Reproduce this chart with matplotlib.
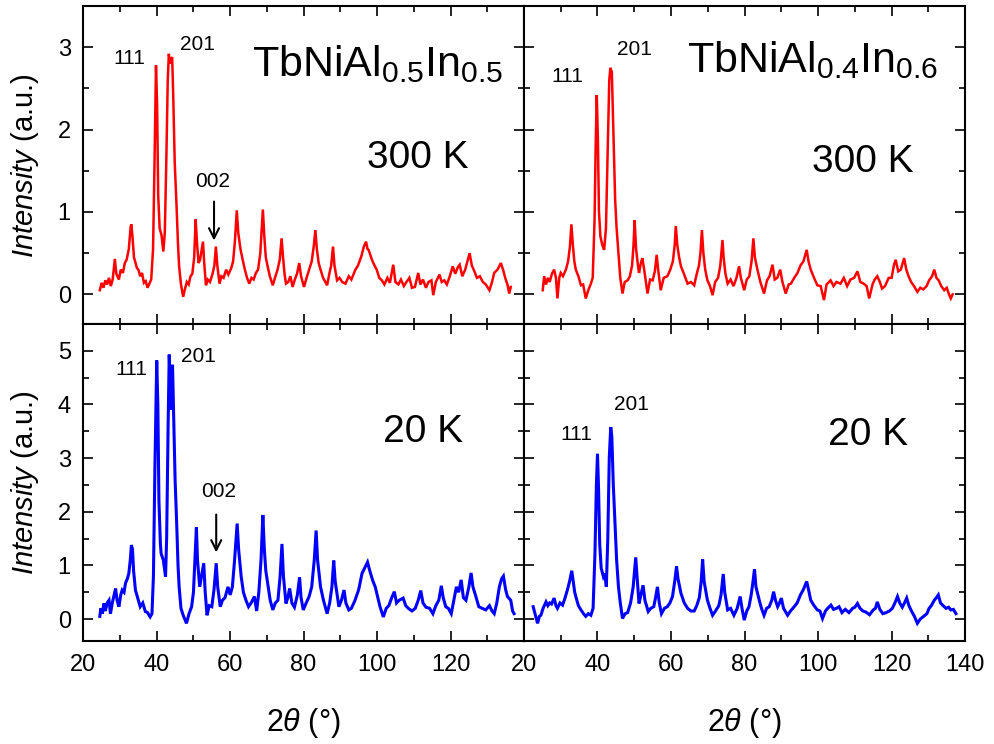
import numpy as np
import matplotlib
matplotlib.use("Agg")
import matplotlib.pyplot as plt
from matplotlib.ticker import MultipleLocator, FixedLocator

plt.rcParams['font.family'] = ['Liberation Sans', 'DejaVu Sans']
plt.rcParams['mathtext.fontset'] = 'custom'
plt.rcParams['mathtext.rm'] = 'Liberation Sans'
plt.rcParams['mathtext.it'] = 'Liberation Sans:italic'

# TbNiAl0.5In0.5, 300 K  (2theta, intensity)
pts_a_300 = [(24.5,0.05),(25.0,0.14),(25.5,0.08),(26.0,0.17),(26.5,0.12),(27.0,0.2),(27.5,0.1),(28.0,0.18),(28.6,0.43),(29.0,0.25),
    (29.7,0.18),(30.2,0.3),(30.8,0.26),(31.3,0.38),(31.8,0.42),(32.4,0.55),(32.9,0.82),(33.1,0.85),(33.4,0.7),(33.8,0.45),
    (34.6,0.32),(35.0,0.3),(35.5,0.22),(36.0,0.26),(36.5,0.14),(37.0,0.16),(37.5,0.08),(38.0,0.13),(38.5,0.18),(39.0,0.55),
    (39.4,1.6),(39.8,2.78),(40.1,2.3),(40.4,1.2),(40.8,0.8),(41.3,0.72),(41.8,0.52),(42.2,0.75),(42.6,1.6),(43.0,2.6),
    (43.3,2.92),(43.6,2.8),(43.8,2.85),(44.2,2.88),(44.5,2.4),(44.9,1.6),(45.4,1.07),(45.8,0.6),(46.1,0.34),(46.6,0.12),
    (47.2,-0.03),(47.6,0.05),(48.2,0.15),(48.7,0.12),(49.2,0.22),(49.7,0.25),(50.2,0.45),(50.6,0.91),(51.0,0.6),(51.4,0.38),
    (51.8,0.42),(52.6,0.64),(52.9,0.4),(53.4,0.11),(53.9,0.18),(54.5,0.15),(55.2,0.25),(55.7,0.35),(56.1,0.58),(56.5,0.35),
    (57.1,0.13),(57.6,0.22),(58.2,0.2),(58.9,0.3),(59.5,0.24),(60.3,0.32),(60.8,0.4),(61.3,0.65),(61.8,1.02),(62.2,0.75),
    (62.8,0.55),(63.4,0.42),(64.0,0.3),(64.6,0.2),(65.2,0.13),(65.8,0.2),(66.4,0.18),(67.0,0.26),(67.6,0.3),(68.2,0.5),
    (68.9,1.03),(69.3,0.7),(69.7,0.45),(70.2,0.34),(70.8,0.22),(71.6,0.11),(72.2,0.2),(72.9,0.3),(73.5,0.42),(74.0,0.68),
    (74.4,0.45),(74.8,0.25),(75.2,0.13),(75.8,0.15),(76.4,0.22),(77.0,0.09),(77.6,0.18),(78.2,0.25),(78.8,0.38),(79.3,0.22),
    (80.1,0.09),(80.8,0.2),(81.5,0.3),(82.2,0.4),(82.8,0.6),(83.2,0.78),(83.6,0.55),(84.1,0.38),(84.6,0.3),(85.3,0.2),
    (86.4,0.11),(87.0,0.25),(87.5,0.35),(88.0,0.58),(88.4,0.35),(89.1,0.17),(89.8,0.2),(90.5,0.15),(91.4,0.13),(92.3,0.22),
    (93.0,0.18),(94.1,0.3),(94.8,0.35),(95.7,0.46),(96.4,0.58),(97.0,0.64),(97.4,0.55),(97.7,0.54),(98.6,0.42),(99.3,0.35),
    (99.9,0.3),(100.6,0.2),(101.3,0.17),(102.0,0.12),(102.8,0.2),(103.5,0.14),(104.4,0.36),(105.0,0.15),(105.8,0.12),(106.5,0.18),
    (107.3,0.1),(108.0,0.15),(108.8,0.2),(109.5,0.08),(110.3,0.09),(111.2,0.26),(111.8,0.12),(112.5,0.18),(113.3,0.08),(114.0,0.15),
    (114.8,0.17),(115.3,-0.01),(116.0,0.15),(117.0,0.24),(117.6,0.15),(118.3,0.17),(119.0,0.12),(119.8,0.22),(120.6,0.34),(121.3,0.25),
    (122.0,0.33),(122.5,0.36),(123.2,0.22),(124.0,0.3),(124.6,0.4),(125.2,0.5),(125.8,0.35),(126.5,0.28),(127.2,0.2),(128.0,0.22),
    (128.8,0.15),(129.6,0.12),(130.6,0.05),(131.3,0.15),(131.9,0.26),(132.8,0.3),(133.7,0.38),(134.3,0.3),(134.9,0.2),(135.5,0.12),
    (136.0,0.01),(136.4,0.09)]

# TbNiAl0.4In0.6, 300 K
pts_b_300 = [(25.1,0.05),(25.5,0.22),(26.0,0.12),(26.5,0.2),(27.0,0.15),(27.6,0.25),(28.2,0.3),(28.7,0.2),(29.1,-0.05),(29.6,0.2),
    (30.0,0.26),(30.6,0.22),(31.4,0.3),(32.0,0.4),(32.5,0.58),(32.9,0.85),(33.3,0.6),(33.7,0.4),(34.1,0.3),(34.8,0.22),
    (35.5,0.11),(36.1,0.12),(36.8,-0.05),(37.5,0.05),(38.2,0.13),(38.7,0.2),(39.2,0.9),(39.5,1.8),(39.8,2.42),(40.1,1.9),
    (40.4,1.0),(40.8,0.7),(41.3,0.6),(41.8,0.54),(42.3,0.8),(42.8,1.8),(43.2,2.6),(43.5,2.75),(43.9,2.7),(44.3,2.0),
    (44.8,1.15),(45.2,0.8),(45.7,0.5),(46.2,0.2),(46.8,0.01),(47.4,0.15),(48.2,0.17),(48.8,0.22),(49.4,0.35),(49.8,0.6),
    (50.1,0.9),(50.5,0.55),(51.0,0.35),(51.3,0.26),(51.8,0.38),(52.2,0.44),(52.7,0.3),(53.6,0.01),(54.3,0.18),(55.0,0.17),
    (55.6,0.28),(56.1,0.48),(56.5,0.3),(57.2,0.05),(58.0,0.2),(59.0,0.22),(59.8,0.3),(60.5,0.4),(61.0,0.6),(61.3,0.83),
    (61.7,0.6),(62.2,0.45),(62.7,0.34),(63.5,0.25),(64.5,0.13),(65.4,0.15),(66.3,0.11),(67.0,0.25),(67.6,0.35),(68.0,0.5),
    (68.4,0.78),(68.8,0.5),(69.3,0.3),(69.9,0.17),(70.6,0.1),(71.3,-0.01),(72.0,0.15),(72.8,0.2),(73.4,0.35),(74.0,0.66),
    (74.3,0.45),(74.8,0.25),(75.4,0.13),(76.2,0.18),(77.0,0.1),(77.8,0.2),(78.5,0.34),(79.0,0.2),(79.9,0.05),(80.6,0.18),
    (81.3,0.22),(81.9,0.4),(82.4,0.68),(82.8,0.45),(83.5,0.3),(84.3,0.15),(85.3,0.01),(86.1,0.17),(86.8,0.22),(87.6,0.36),
    (88.2,0.18),(88.9,0.2),(89.7,0.3),(90.3,0.15),(91.2,0.01),(92.0,0.12),(92.6,0.13),(93.5,0.2),(94.4,0.26),(95.2,0.35),
    (96.0,0.4),(96.9,0.54),(97.4,0.4),(98.0,0.3),(98.9,0.2),(99.8,0.11),(100.7,0.1),(101.6,-0.07),(102.3,0.12),(103.4,0.17),
    (104.2,0.1),(105.0,0.15),(106.1,0.13),(107.0,0.2),(107.9,0.1),(108.8,0.18),(109.8,0.2),(110.7,0.28),(111.5,0.15),(112.4,0.13),
    (113.2,0.1),(113.9,-0.05),(114.8,0.12),(115.4,0.18),(116.1,0.22),(116.8,0.15),(117.4,0.07),(118.2,0.1),(119.2,0.2),(120.0,0.2),
    (120.6,0.35),(121.1,0.42),(121.8,0.28),(122.5,0.3),(123.4,0.44),(124.0,0.3),(124.6,0.22),(125.3,0.15),(126.1,0.1),(127.0,0.03),
    (127.8,0.08),(128.6,0.06),(129.5,0.1),(130.2,0.17),(131.0,0.22),(131.6,0.3),(132.2,0.2),(132.8,0.17),(133.5,0.1),(134.3,0.05),
    (135.0,0.08),(135.6,0.0),(136.1,-0.05),(136.6,0.0)]

# TbNiAl0.5In0.5, 20 K
pts_a_20 = [(24.5,0.05),(24.8,0.2),(25.2,0.1),(25.6,0.29),(26.0,0.15),(26.5,0.3),(27.0,0.35),(27.4,0.1),(27.9,0.3),(28.4,0.45),
    (28.8,0.57),(29.2,0.35),(29.7,0.23),(30.2,0.45),(30.6,0.54),(31.1,0.5),(31.5,0.67),(32.0,0.75),(32.4,0.85),(32.8,1.1),
    (33.1,1.38),(33.4,1.3),(33.7,0.9),(34.2,0.54),(34.8,0.4),(35.5,0.23),(36.2,0.3),(36.9,0.14),(37.5,0.12),(38.2,0.04),
    (38.7,0.1),(39.1,0.8),(39.5,2.8),(40.0,4.82),(40.3,4.0),(40.6,2.2),(41.0,1.4),(41.2,1.22),(41.8,1.1),(42.4,0.79),
    (42.7,1.5),(43.1,3.6),(43.4,4.93),(43.7,4.3),(43.9,3.9),(44.3,4.74),(44.6,3.8),(45.0,2.6),(45.4,1.85),(45.8,1.0),
    (46.1,0.6),(46.6,0.2),(47.2,0.07),(48.1,-0.08),(48.8,0.1),(49.5,0.23),(50.0,0.5),(50.4,1.1),(50.8,1.71),(51.1,1.1),
    (51.7,0.6),(52.2,0.8),(52.8,1.04),(53.2,0.5),(53.7,0.07),(54.3,0.25),(55.0,0.23),(55.6,0.55),(56.2,1.04),(56.6,0.6),
    (57.3,0.23),(57.9,0.35),(58.6,0.4),(59.4,0.6),(60.0,0.45),(60.6,0.6),(61.2,1.1),(61.9,1.78),(62.3,1.3),(63.0,0.79),
    (63.6,0.5),(64.3,0.35),(65.0,0.23),(65.7,0.3),(66.6,0.42),(67.2,0.15),(67.8,0.5),(68.4,1.1),(68.9,1.94),(69.3,1.3),
    (69.7,0.9),(70.2,0.67),(70.9,0.35),(71.6,0.17),(72.3,0.3),(73.0,0.35),(73.6,0.8),(74.1,1.4),(74.5,0.8),(75.2,0.29),
    (75.7,0.4),(76.2,0.57),(76.8,0.3),(77.5,0.22),(78.3,0.45),(78.9,0.78),(79.3,0.4),(79.9,0.17),(80.7,0.3),(81.5,0.42),
    (82.2,0.6),(82.9,1.1),(83.4,1.65),(83.8,1.1),(84.6,0.6),(85.4,0.35),(86.4,0.1),(87.1,0.3),(87.7,0.6),(88.2,1.09),
    (88.6,0.7),(89.6,0.23),(90.3,0.35),(91.0,0.54),(91.5,0.3),(92.3,0.17),(93.0,0.2),(94.0,0.35),(95.0,0.55),(95.9,0.85),
    (96.6,0.95),(97.4,1.06),(98.1,0.88),(98.8,0.72),(99.5,0.6),(100.2,0.4),(100.8,0.23),(101.7,0.04),(102.5,0.2),(103.2,0.25),
    (104.0,0.4),(104.7,0.51),(105.3,0.3),(106.0,0.35),(107.1,0.39),(107.8,0.25),(108.5,0.2),(109.5,0.15),(110.4,0.2),(111.2,0.35),
    (111.9,0.53),(112.5,0.3),(113.3,0.22),(114.3,0.2),(115.2,0.1),(116.0,0.25),(116.8,0.35),(117.5,0.62),(118.0,0.4),(118.7,0.23),
    (119.4,0.2),(120.2,0.1),(120.9,0.35),(121.6,0.6),(122.2,0.5),(122.9,0.73),(123.5,0.4),(124.2,0.35),(125.0,0.6),(125.6,0.86),
    (126.1,0.6),(126.9,0.42),(127.7,0.23),(128.6,0.2),(129.6,0.17),(130.6,0.25),(131.3,0.15),(131.9,0.1),(132.6,0.3),(133.3,0.6),
    (133.9,0.75),(134.4,0.8),(135.0,0.55),(135.5,0.42),(136.4,0.35),(136.9,0.15),(137.3,0.1)]

# TbNiAl0.4In0.6, 20 K
pts_b_20 = [(22.5,0.23),(23.0,0.1),(23.7,-0.08),(24.2,0.05),(24.6,0.07),(25.2,0.2),(26.0,0.32),(26.5,0.25),(27.0,0.3),(27.5,0.28),
    (28.2,0.39),(28.7,0.25),(29.1,0.2),(29.8,0.3),(30.5,0.26),(31.2,0.4),(31.8,0.54),(32.4,0.7),(33.0,0.9),(33.4,0.7),
    (33.8,0.5),(34.1,0.42),(34.8,0.25),(35.5,0.17),(36.2,0.1),(36.8,0.05),(37.5,0.1),(38.2,0.07),(38.8,0.2),(39.3,1.2),
    (39.7,2.5),(40.0,3.08),(40.3,2.4),(40.6,1.4),(41.0,0.95),(41.6,0.79),(42.0,0.85),(42.4,0.6),(42.8,1.5),(43.2,3.0),
    (43.6,3.58),(43.9,3.4),(44.3,2.5),(44.8,1.72),(45.2,1.1),(45.7,0.6),(46.2,0.3),(46.6,0.11),(46.8,0.01),(47.5,0.1),
    (48.2,0.12),(49.0,0.3),(49.7,0.6),(50.4,1.15),(50.8,0.75),(51.3,0.29),(51.8,0.45),(52.4,0.63),(52.9,0.35),(53.8,0.14),
    (54.5,0.2),(55.3,0.23),(55.8,0.4),(56.3,0.6),(56.8,0.3),(57.4,0.1),(58.2,0.2),(59.0,0.23),(59.7,0.3),(60.4,0.42),
    (61.0,0.7),(61.5,0.98),(61.9,0.75),(62.7,0.48),(63.6,0.3),(64.5,0.2),(65.4,0.15),(66.3,0.15),(67.0,0.25),(67.7,0.4),
    (68.2,0.7),(68.6,1.11),(69.0,0.7),(69.9,0.35),(70.6,0.2),(71.3,0.07),(72.1,0.15),(73.0,0.25),(73.6,0.45),(74.2,0.84),
    (74.6,0.5),(75.4,0.17),(76.2,0.2),(77.1,0.07),(78.0,0.2),(78.8,0.42),(79.3,0.2),(79.9,-0.02),(80.6,0.15),(81.2,0.23),
    (81.8,0.45),(82.3,0.7),(82.7,0.93),(83.1,0.6),(84.0,0.35),(84.6,0.2),(85.3,0.07),(86.0,0.2),(86.7,0.23),(87.4,0.35),
    (87.9,0.51),(88.4,0.35),(89.0,0.23),(89.5,0.3),(90.0,0.39),(90.6,0.2),(91.7,0.07),(92.5,0.15),(93.5,0.23),(94.3,0.3),
    (95.2,0.45),(96.0,0.55),(96.9,0.7),(97.4,0.55),(98.0,0.35),(98.9,0.25),(99.8,0.17),(100.5,0.15),(101.2,0.01),(102.0,0.15),
    (102.6,0.2),(103.5,0.26),(104.2,0.18),(105.0,0.2),(105.7,0.23),(106.5,0.12),(107.4,0.18),(108.4,0.12),(109.4,0.2),(110.0,0.22),
    (110.7,0.29),(111.4,0.2),(112.2,0.15),(113.0,0.13),(114.0,0.08),(115.0,0.17),(115.6,0.2),(116.1,0.32),(116.8,0.18),(117.6,0.1),
    (118.5,0.12),(119.4,0.15),(120.2,0.2),(120.9,0.3),(121.6,0.42),(122.2,0.3),(122.9,0.22),(123.5,0.3),(124.1,0.39),(124.7,0.25),
    (125.4,0.15),(126.2,0.05),(127.0,-0.08),(127.8,0.0),(128.7,0.05),(129.6,0.1),(130.2,0.2),(130.8,0.25),(131.6,0.35),(132.2,0.4),
    (132.7,0.45),(133.3,0.3),(134.0,0.25),(134.8,0.2),(135.5,0.22),(136.1,0.17),(136.8,0.18),(137.5,0.1)]

compounds = [r'$\mathrm{TbNiAl_{0.5}In_{0.5}}$', r'$\mathrm{TbNiAl_{0.4}In_{0.6}}$']
temps = ['300 K', '20 K']
# label positions (x, y) for 111 / 201 in each panel
lbl_111 = [[(32.6, 2.86), (31.8, 2.64)], [(33.2, 4.66), (34.2, 3.44)]]
lbl_201 = [[(51.0, 3.03), (50.0, 2.97)], [(51.3, 4.90), (49.2, 4.00)]]

fig = plt.figure(figsize=(9.95, 7.44), dpi=100)
L, M, R = 0.0837, 0.5266, 0.970
B, H, T = 0.1384, 0.5645, 0.9919

axes = [[fig.add_axes([L, H, M - L, T - H]), fig.add_axes([M, H, R - M, T - H])],
        [fig.add_axes([L, B, M - L, H - B]), fig.add_axes([M, B, R - M, H - B])]]

data = [[pts_a_300, pts_b_300], [pts_a_20, pts_b_20]]
colors = ['#ff0000', '#0000ff']
lws = [1.8, 2.2]
ylims = [(-0.36, 3.5), (-0.41, 5.5)]

for r in range(2):
    for c in range(2):
        ax = axes[r][c]
        xy = np.array(data[r][c])
        ax.plot(xy[:, 0], xy[:, 1], color=colors[r], lw=lws[r], solid_joinstyle='miter')
        ax.set_xlim(20, 140)
        ax.set_ylim(*ylims[r])
        ax.xaxis.set_major_locator(MultipleLocator(20))
        ax.xaxis.set_minor_locator(MultipleLocator(10))
        ax.yaxis.set_major_locator(MultipleLocator(1))
        ax.yaxis.set_minor_locator(MultipleLocator(0.5))
        ax.tick_params(which='both', direction='in', top=True, right=True,
                       labelsize=17, width=1.2)
        ax.tick_params(which='major', length=7, pad=9)
        ax.tick_params(which='minor', length=4)
        for sp in ax.spines.values():
            sp.set_linewidth(1.5)
        if c == 1:
            ax.tick_params(labelleft=False)
        if r == 0:
            ax.tick_params(labelbottom=False)
        elif c == 0:
            ax.xaxis.set_major_locator(FixedLocator([20, 40, 60, 80, 100, 120]))
        ax.text(*lbl_111[r][c], '111', fontsize=15, ha='center', va='center')
        ax.text(*lbl_201[r][c], '201', fontsize=15, ha='center', va='center')

axes[0][0].text(134.5, 2.65, compounds[0], fontsize=31, ha='right', va='baseline')
axes[0][1].text(132.7, 2.70, compounds[1], fontsize=31, ha='right', va='baseline')
axes[0][0].text(111.2, 1.66, temps[0], fontsize=28, ha='center', va='center')
axes[0][1].text(112.2, 1.61, temps[0], fontsize=28, ha='center', va='center')
axes[1][0].text(112.6, 3.48, temps[1], fontsize=28, ha='center', va='center')
axes[1][1].text(113.5, 3.44, temps[1], fontsize=28, ha='center', va='center')

# 002 markers
arrow = dict(arrowstyle='->', lw=1.5, color='black', mutation_scale=18)
axes[0][0].text(55.2, 1.37, '002', fontsize=15, ha='center', va='center')
axes[0][0].annotate('', xy=(55.6, 0.62), xytext=(55.6, 1.16), arrowprops=arrow)
axes[1][0].text(56.9, 2.37, '002', fontsize=15, ha='center', va='center')
axes[1][0].annotate('', xy=(56.2, 1.19), xytext=(56.2, 2.0), arrowprops=arrow)

ylab = r'$\mathit{Intensity}$ (a.u.)'
fig.text(0.025, 0.778, ylab, fontsize=21, rotation=90, ha='center', va='center')
fig.text(0.025, 0.3515, ylab, fontsize=21, rotation=90, ha='center', va='center')
xlab = r'$\mathit{2θ}$ (°)'
fig.text((L + M) / 2, 0.028, xlab, fontsize=22, ha='center', va='center')
fig.text((M + R) / 2, 0.028, xlab, fontsize=22, ha='center', va='center')

fig.savefig('out.png', dpi=100)
